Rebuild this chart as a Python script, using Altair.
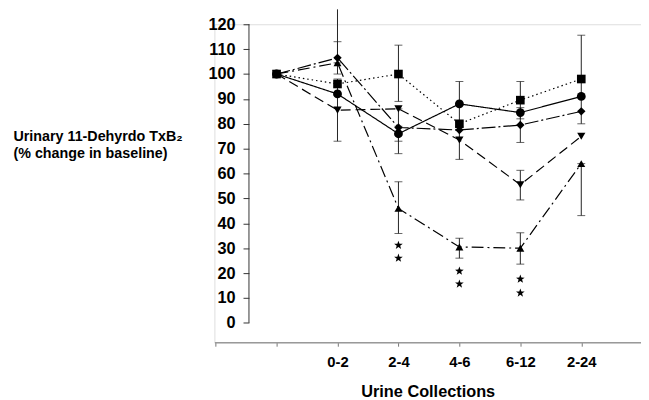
import altair as alt
import pandas as pd

# ---------------- data ----------------
x_pos = [0, 1, 2, 3, 4, 5]
x_tick_values = [-1, 0, 1, 2, 3, 4, 5]
x_tick_labels = ["", "", "0-2", "2-4", "4-6", "6-12", "2-24"]
y_ticks = [0, 10, 20, 30, 40, 50, 60, 70, 80, 90, 100, 110, 120]

series = ["circle", "square", "diamond", "down", "up"]
circle_vals = [100, 92, 76, 88, 84.5, 91]
square_vals = [100, 96, 100, 80, 89.5, 98]
diamond_vals = [100, 106.5, 78.5, 77.5, 79.5, 85]
down_vals = [100, 85.5, 86, 73.5, 55.5, 75]
up_vals = [100, 104.5, 46, 30.5, 30, 64]

circle_lo = [None, None, 73, 79, None, None]
circle_hi = [None, None, 79, 97, None, None]
square_lo = [None, None, 89, None, 82, 80]
square_hi = [None, None, 111.6, None, 97, 115.6]
diamond_lo = [None, 100, None, None, 72.5, None]
diamond_hi = [None, 113, None, None, 86.5, None]
down_lo = [None, 73, 68, 65.7, 49.4, None]
down_hi = [None, 98, 86, 81, 61.3, None]
up_lo = [None, 104.5, 35.9, 26, 23.6, 43.1]
up_hi = [None, 126, 56.7, 34, 36.2, 64]

star_x = [2, 2, 3, 3, 4, 4]
star_y = [31.2, 26, 20.8, 15.6, 17.6, 12]

vals = {"circle": circle_vals, "square": square_vals, "diamond": diamond_vals,
        "down": down_vals, "up": up_vals}
los = {"circle": circle_lo, "square": square_lo, "diamond": diamond_lo,
       "down": down_lo, "up": up_lo}
his = {"circle": circle_hi, "square": square_hi, "diamond": diamond_hi,
       "down": down_hi, "up": up_hi}

rows = []
for s in series:
    for i, xv in enumerate(x_pos):
        rows.append({"series": s, "x": xv, "v": vals[s][i],
                     "lo": los[s][i], "hi": his[s][i]})
df = pd.DataFrame(rows)
err = df.dropna(subset=["lo", "hi"])
err = err[["series", "x", "lo", "hi"]].rename(columns={"lo": "v", "hi": "v2"})
caps = pd.concat([err[["series", "x", "v"]],
                  err[err["v2"] <= 120][["series", "x", "v2"]].rename(columns={"v2": "v"})])
stars = pd.DataFrame({"x": star_x, "v": star_y})
yline = pd.DataFrame({"x": [0], "v": [y_ticks[0]], "v2": [y_ticks[-1]]})

FONT = "Liberation Sans"

dashes = [[1, 0], [1.5, 3], [14, 3, 2, 3], [10, 5], [12, 4, 2, 4]]
shapes = ["circle", "square", "diamond", "triangle-down", "triangle-up"]
sizes = [80, 65, 110, 75, 75]

label_expr = "[" + ",".join("'%s'" % t for t in x_tick_labels) + "][datum.value + 1]"

YSCALE = alt.Scale(domain=[-7.8, 120], nice=False, zero=False)
XSCALE = alt.Scale(domain=[-1.02, 5.98], nice=False, zero=False)

XAX = alt.Axis(values=x_tick_values, labelExpr=label_expr, grid=False,
               domainColor="#999999", domainWidth=1.5, tickColor="#777777",
               tickSize=4, labelPadding=9, labelFont=FONT, labelFontSize=15,
               labelFontWeight="bold", labelColor="black",
               title="Urine Collections", titleFont=FONT, titleFontSize=16.5,
               titleFontWeight="bold", titleColor="black", titlePadding=14)
YAX = alt.Axis(values=y_ticks, offset=-35, domain=False, grid=False,
               labelOverlap=False,
               tickSize=6, tickColor="#333333", labelPadding=8,
               labelFont=FONT, labelFontSize=16.5, labelFontWeight="bold",
               labelColor="black",
               title=["Urinary 11-Dehyrdo TxB\u2082", "(% change in baseline)"],
               titleAngle=0, titleAlign="left", titleBaseline="middle",
               titleX=-239, titleY=114, titleFont=FONT, titleFontSize=14.5,
               titleFontWeight="bold", titleColor="black", titleLineHeight=17)

X = alt.X("x:Q", scale=XSCALE, axis=XAX)
Y = alt.Y("v:Q", scale=YSCALE, axis=YAX)

base = alt.Chart(df)

yaxis_line = alt.Chart(yline).mark_rule(color="#333333", strokeWidth=1).encode(
    x=alt.value(35), y=Y, y2="v2:Q")

lines = base.mark_line(color="black", strokeWidth=1.2).encode(
    x=X, y=Y,
    strokeDash=alt.StrokeDash("series:N", scale=alt.Scale(domain=series, range=dashes), legend=None))

rules = alt.Chart(err).mark_rule(color="#222222", strokeWidth=1).encode(
    x=X, y=Y, y2="v2:Q")

capmarks = alt.Chart(caps).mark_tick(color="#222222", orient="horizontal",
                                     size=8, thickness=1).encode(x=X, y=Y)

points = base.mark_point(filled=True, color="black", opacity=1).encode(
    x=X, y=Y,
    shape=alt.Shape("series:N", scale=alt.Scale(domain=series, range=shapes), legend=None),
    size=alt.Size("series:N", scale=alt.Scale(domain=series, range=sizes), legend=None))

star_path = ("M0,-1L0.24,-0.33L0.95,-0.31L0.38,0.12L0.59,0.81L0,0.4L-0.59,0.81"
             "L-0.38,0.12L-0.95,-0.31L-0.24,-0.33Z")
starmarks = alt.Chart(stars).mark_point(shape=star_path, filled=True, color="black",
                                        opacity=1, size=85).encode(x=X, y=Y)

chart = alt.layer(lines, yaxis_line, rules, capmarks, points, starmarks).properties(
    width=432, height=322,
    autosize=alt.AutoSizeParams(type="none"),
    padding={"left": 209, "top": 14, "right": 0, "bottom": 56},
).configure_view(stroke=None).configure(background="white")

chart.save("out.html", embed_options={"renderer": "svg", "actions": False})
